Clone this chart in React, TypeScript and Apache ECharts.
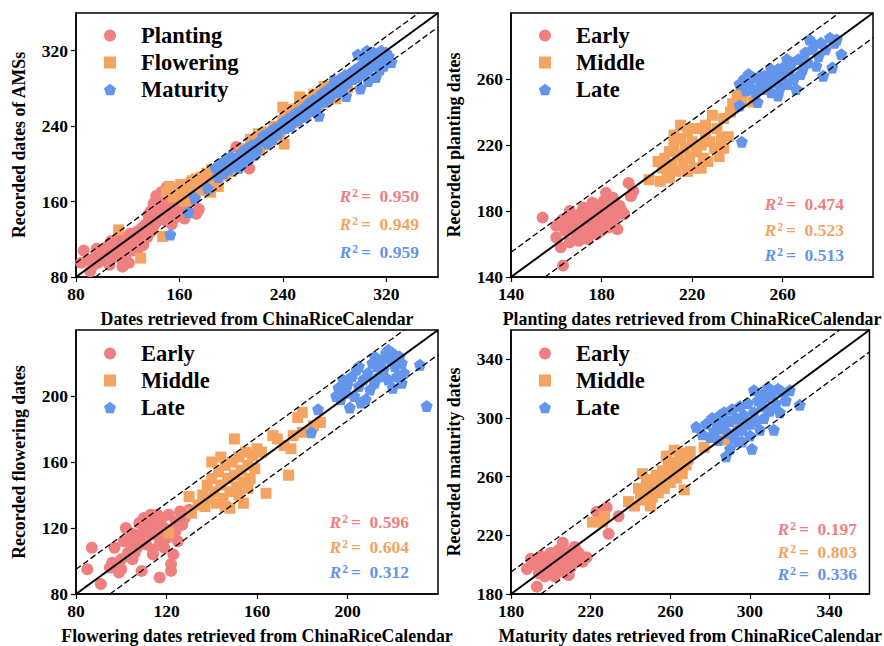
import React, { useEffect, useRef } from "react";
import * as echarts from "echarts";

// ---- Panel (a): all stages, [retrieved, recorded] day of year ----
const allPlanting: number[][] = [
  [86,108],[84,95],[91,86],[90,98],[93,92],[95,101],[97,95],[98,104],[100,99],[101,108],
  [103,97],[104,112],[105,104],[106,93],[107,118],[108,110],[109,102],[110,114],[111,106],[112,120],
  [113,109],[114,100],[115,116],[116,91],[117,122],[118,112],[119,105],[120,118],[121,95],[122,126],
  [123,114],[124,108],[125,121],[126,116],[127,128],[128,110],[129,124],[130,119],[131,132],[132,114],
  [133,126],[134,136],[135,122],[136,130],[137,140],[138,128],[139,144],[140,134],[141,150],[142,138],
  [143,156],[144,142],[145,160],[146,148],[147,163],[148,152],[149,140],[150,158],[151,146],[152,165],
  [153,154],[154,136],[155,160],[157,150],[156,142],[164,142],[166,150],[173,147],[174,150],[175,152],
  [162,156],[204,218],[214,195],[170,162],[158,166],[160,158],[140,158],[142,166],[144,162],[146,170],
  [148,168],[150,175],[138,150],[136,146],[152,170],[154,168],[134,128],[130,126],[126,124],[96,110],
];
const allFlowering: number[][] = [
  [113,130],[147,123],[130,100],[152,176],[150,170],[155,165],[158,172],[160,168],[162,175],[164,160],
  [166,178],[168,170],[170,182],[172,166],[174,176],[176,184],[178,172],[180,186],[182,178],[184,170],
  [186,190],[188,182],[190,176],[192,194],[195,188],[198,200],[200,192],[203,205],[205,198],[208,212],
  [210,204],[212,216],[214,208],[216,222],[218,212],[220,226],[222,214],[224,230],[226,220],[228,234],
  [230,224],[232,226],[235,238],[238,230],[241,221],[240,246],[243,252],[245,240],[247,256],[249,244],
  [251,258],[253,250],[255,262],[258,252],[260,266],[262,258],[265,270],[268,262],[270,274],[273,266],
  [275,278],[278,270],[281,269],[283,282],[285,276],[288,286],[240,260],[244,258],[290,281],[253,271],
  [156,174],[161,178],[165,172],[169,180],[173,184],[177,186],[181,190],[185,194],[215,226],[221,232],
  [227,224],[233,240],[246,252],[256,268],[264,274],[272,282],[280,288],
];
const allMaturity: number[][] = [
  [153,125],[167,149],[172,164],[182,174],[188,196],[190,186],[192,200],[194,190],[196,204],[198,194],
  [200,208],[202,198],[204,206],[206,196],[208,212],[210,202],[212,216],[214,206],[216,220],[218,210],
  [220,214],[222,224],[225,230],[228,222],[230,234],[232,226],[234,238],[236,232],[240,244],[244,248],
  [246,240],[250,254],[252,246],[255,258],[257,250],[260,264],[262,256],[264,268],[266,260],[268,251],
  [270,274],[272,266],[274,278],[276,270],[278,282],[280,288],[282,276],[284,290],[286,280],[288,294],
  [290,286],[292,296],[294,290],[296,300],[298,292],[300,280],[300,304],[302,296],[304,310],[306,300],
  [308,314],[310,304],[312,292],[312,316],[314,308],[316,320],[318,312],[320,318],[322,314],[324,308],
  [305,320],[310,318],[298,316],[315,300],[306,288],[318,304],[289,272],[191,194],[195,198],[199,202],
  [203,200],[207,204],[211,208],[238,240],[242,238],[248,250],[254,252],[259,256],[263,262],[267,266],
  [282,286],[286,290],[292,290],[296,296],[302,304],[308,306],[313,312],
];

// ---- Panel (b): planting dates ----
const plantEarly: number[][] = [
  [154,176],[160,171],[160,164],[163,147],[162,158],[164,168],[165,174],[166,161],[167,171],[168,177],
  [169,165],[170,173],[171,179],[172,168],[173,175],[174,163],[175,180],[176,171],[177,177],[178,166],
  [179,183],[180,174],[181,186],[182,178],[182,191],[183,170],[184,181],[185,188],[186,176],[187,169],
  [188,183],[189,180],[190,178],[192,197],[193,189],[194,192],[170,162],[175,168],[178,175],[184,172],
  [166,180],[172,182],[180,168],[186,185],[176,185],[163,175],
];
const plantMiddle: number[][] = [
  [201,199],[206,198],[207,206],[208,212],[209,203],[210,216],[211,208],[212,220],[213,204],[214,214],
  [215,224],[216,209],[217,218],[218,228],[219,212],[220,222],[221,206],[222,216],[223,230],[224,220],
  [225,212],[226,226],[227,210],[228,222],[229,238],[230,218],[231,230],[232,213],[233,224],[234,236],
  [236,225],[237,240],[238,245],[240,250],[242,248],[247,246],[215,232],[212,226],[218,204],[224,206],
  [210,200],[220,230],[226,232],[205,210],[234,218],
];
const plantLate: number[][] = [
  [241,257],[242,222],[241,244],[243,260],[244,253],[245,258],[246,255],[247,261],[248,252],[249,246],
  [250,259],[251,254],[252,262],[253,256],[254,260],[255,252],[256,264],[257,258],[258,266],[259,255],
  [260,262],[261,268],[262,257],[263,265],[264,270],[265,260],[266,254],[267,272],[268,263],[269,266],
  [270,276],[271,270],[272,284],[273,278],[274,281],[275,268],[276,274],[277,282],[279,278],[281,285],
  [282,267],[283,282],[284,284],[286,275],[278,262],[262,272],[255,266],[250,262],[245,263],[258,250],
];

// ---- Panel (c): flowering dates ----
const flowerEarly: number[][] = [
  [85,95],[87,108],[91,86],[95,96],[96,99],[98,96],[97,108],[99,93],[100,101],[101,112],
  [102,120],[103,105],[104,111],[105,101],[106,116],[107,108],[108,114],[109,94],[110,119],[111,110],
  [112,122],[113,116],[114,107],[115,124],[116,118],[117,90],[117,112],[118,126],[119,120],[120,114],
  [121,128],[122,94],[122,98],[122,118],[123,104],[124,124],[125,112],[126,130],[127,122],[128,126],
  [129,129],[130,131],[110,126],[113,128],[116,128],[119,108],[104,117],[108,123],[124,118],[114,104],
  [100,95],[106,105],
];
const flowerMiddle: number[][] = [
  [121,117],[131,129],[130,139],[134,134],[136,140],[137,133],[138,146],[139,138],[140,150],[141,142],
  [142,135],[143,154],[144,146],[145,138],[146,158],[147,150],[148,142],[149,160],[150,152],[150,174],
  [151,145],[152,163],[153,155],[154,135],[154,148],[155,166],[156,158],[157,150],[158,164],[159,156],
  [160,168],[162,166],[164,141],[167,176],[169,174],[172,170],[174,152],[175,168],[176,176],[178,187],
  [180,190],[180,178],[185,182],[188,184],[140,160],[144,163],[148,132],[152,140],[146,133],[156,144],
];
const flowerLate: number[][] = [
  [184,178],[187,192],[195,200],[196,205],[197,198],[198,210],[199,202],[200,207],[201,193],[202,212],
  [203,200],[204,216],[205,206],[206,196],[207,210],[208,198],[209,214],[210,204],[211,220],[212,208],
  [213,218],[214,212],[215,222],[216,216],[217,226],[218,210],[219,222],[220,205],[221,218],[222,212],
  [223,224],[224,208],[225,214],[232,219],[235,194],[218,228],[212,224],[205,218],[220,226],[224,220],
];

// ---- Panel (d): maturity dates ----
const matureEarly: number[][] = [
  [188,197],[190,204],[192,200],[193,185],[194,194],[195,206],[196,198],[197,192],[198,203],[199,196],
  [200,208],[201,199],[202,192],[203,205],[204,198],[205,210],[206,215],[206,201],[207,195],[208,206],
  [209,193],[210,209],[211,201],[212,212],[213,204],[214,208],[216,202],[218,205],[223,236],[225,232],
  [228,239],[229,221],[234,233],[226,237],[200,195],[197,200],[204,210],[210,198],
];
const matureMiddle: number[][] = [
  [221,229],[226,229],[227,233],[239,243],[242,240],[245,248],[247,244],[248,255],[249,250],[250,258],
  [251,246],[252,254],[253,261],[254,249],[255,257],[256,264],[257,252],[258,260],[259,267],[260,256],
  [261,263],[262,270],[263,259],[264,266],[265,273],[266,262],[267,251],[267,276],[268,268],[269,272],
  [270,277],[277,280],[287,285],[295,298],[246,262],[250,240],[258,274],[244,252],[262,278],
];
const matureLate: number[][] = [
  [273,294],[276,289],[278,296],[280,287],[281,300],[282,291],[283,297],[284,285],[285,302],[286,293],
  [287,304],[288,274],[289,290],[290,279],[290,298],[291,306],[292,286],[293,300],[294,292],[295,308],
  [296,284],[297,302],[298,296],[299,310],[300,288],[301,279],[302,304],[302,319],[303,298],[304,312],
  [305,292],[306,308],[307,300],[308,314],[309,321],[310,305],[311,316],[312,292],[313,310],[314,320],
  [315,304],[316,318],[318,312],[320,319],[325,309],[296,292],[300,296],[286,298],[306,316],[294,284],
];

// Axis ranges and tick labels per panel
const rangeAll = [80, 360];
const rangePlanting = [140, 300];
const rangeFlowering = [80, 240];
const rangeMaturity = [180, 360];
const ticksAll = [80, 160, 240, 320];
const ticksPlanting = [140, 180, 220, 260];
const ticksFlowering = [80, 120, 160, 200];
const ticksMaturity = [180, 220, 260, 300, 340];

// Coefficients of determination, per group
const r2All = ["0.950", "0.949", "0.959"];
const r2Planting = ["0.474", "0.523", "0.513"];
const r2Flowering = ["0.596", "0.604", "0.312"];
const r2Maturity = ["0.197", "0.803", "0.336"];

const namesAll = ["Planting", "Flowering", "Maturity"];
const namesSeason = ["Early", "Middle", "Late"];

const xTitles = [
  "Dates retrieved from ChinaRiceCalendar",
  "Planting dates retrieved from ChinaRiceCalendar",
  "Flowering dates retrieved from ChinaRiceCalendar",
  "Maturity dates retrieved from ChinaRiceCalendar",
];
const yTitles = [
  "Recorded dates of AMSs",
  "Recorded planting dates",
  "Recorded flowering dates",
  "Recorded maturity dates",
];

// Tolerance band around the 1:1 line (days)
const BAND = 15;

const FONT = "'Liberation Serif', 'Times New Roman', serif";
const COLORS = ["#F08080", "#F4A460", "#6495ED"];
const PENTAGON =
  "path://M0,-10 L9.511,-3.090 L5.878,8.090 L-5.878,8.090 L-9.511,-3.090 Z";
const SYMBOLS = ["circle", "rect", PENTAGON];
const SIZES = [12, 11, 12];

const GRIDS = [
  { left: 76, top: 13, width: 362, height: 264 },
  { left: 511, top: 13, width: 362, height: 264 },
  { left: 76, top: 330, width: 362, height: 265 },
  { left: 511, top: 330, width: 362, height: 265 },
];
const LEGEND_POS = [
  { left: 99, top: 19 },
  { left: 534, top: 19 },
  { left: 99, top: 337 },
  { left: 534, top: 337 },
];
const R2_POS = [
  { x: 419, y: [196, 224, 252] },
  { x: 844, y: [204, 230, 255] },
  { x: 409, y: [522, 547, 572] },
  { x: 857, y: [529, 552, 574] },
];

const panels = [
  { names: namesAll, data: [allPlanting, allFlowering, allMaturity], range: rangeAll, ticks: ticksAll, r2: r2All },
  { names: namesSeason, data: [plantEarly, plantMiddle, plantLate], range: rangePlanting, ticks: ticksPlanting, r2: r2Planting },
  { names: namesSeason, data: [flowerEarly, flowerMiddle, flowerLate], range: rangeFlowering, ticks: ticksFlowering, r2: r2Flowering },
  { names: namesSeason, data: [matureEarly, matureMiddle, matureLate], range: rangeMaturity, ticks: ticksMaturity, r2: r2Maturity },
];

function makeAxis(gridIndex: number, range: number[], ticks: number[], name: string, isY: boolean) {
  return {
    type: "value",
    gridIndex,
    min: range[0],
    max: range[1],
    interval: ticks[1] - ticks[0],
    name,
    nameLocation: "middle",
    nameGap: isY ? 48 : 33,
    nameTextStyle: { fontFamily: FONT, fontWeight: "bold", fontSize: 17.8, color: "#000" },
    axisLine: { show: true, onZero: false, lineStyle: { color: "#000", width: 1.5 } },
    axisTick: {
      show: true,
      inside: false,
      length: 5,
      customValues: ticks,
      lineStyle: { color: "#000", width: 1.2 },
    },
    axisLabel: {
      customValues: ticks,
      margin: 8,
      fontFamily: FONT,
      fontWeight: "bold",
      fontSize: 17.5,
      color: "#000",
    },
    splitLine: { show: false },
  };
}

function buildOption() {
  const xAxis: any[] = [];
  const yAxis: any[] = [];
  const series: any[] = [];
  const legend: any[] = [];
  const graphic: any[] = [];

  panels.forEach((p, i) => {
    xAxis.push(makeAxis(i, p.range, p.ticks, xTitles[i], false));
    yAxis.push(makeAxis(i, p.range, p.ticks, yTitles[i], true));

    p.data.forEach((pts, k) => {
      series.push({
        type: "scatter",
        name: p.names[k],
        xAxisIndex: i,
        yAxisIndex: i,
        data: pts,
        symbol: SYMBOLS[k],
        symbolSize: SIZES[k],
        itemStyle: { color: COLORS[k], opacity: 1 },
        z: 2 + k,
        silent: true,
      });
    });

    const [lo, hi] = p.range;
    const lines = [
      { d: [[lo, lo], [hi, hi]], w: 2, t: "solid" },
      { d: [[lo, lo + BAND], [hi - BAND, hi]], w: 1.3, t: [6, 3] },
      { d: [[lo + BAND, lo], [hi, hi - BAND]], w: 1.3, t: [6, 3] },
    ];
    lines.forEach((l) => {
      series.push({
        type: "line",
        xAxisIndex: i,
        yAxisIndex: i,
        data: l.d,
        symbol: "none",
        silent: true,
        z: 10,
        lineStyle: { color: "#000", width: l.w, type: l.t },
      });
    });

    legend.push({
      data: p.names,
      orient: "vertical",
      left: LEGEND_POS[i].left,
      top: LEGEND_POS[i].top,
      itemWidth: 12,
      itemHeight: 12,
      itemGap: 4,
      selectedMode: false,
      textStyle: {
        fontFamily: FONT,
        fontWeight: "bold",
        fontSize: 22.5,
        color: "#000",
        padding: [0, 0, 0, 20],
      },
    });

    p.r2.forEach((v, k) => {
      const c = COLORS[k];
      graphic.push({
        type: "text",
        x: R2_POS[i].x,
        y: R2_POS[i].y[k],
        silent: true,
        z: 20,
        style: {
          text: `{r|R}{s|2}{t|=  ${v}}`,
          align: "right",
          verticalAlign: "middle",
          rich: {
            r: { fontFamily: FONT, fontStyle: "italic", fontWeight: "bold", fontSize: 17.5, fill: c },
            s: { fontFamily: FONT, fontWeight: "bold", fontSize: 11.5, fill: c, verticalAlign: "top", padding: [0, 3, 0, 1] },
            t: { fontFamily: FONT, fontWeight: "bold", fontSize: 17.5, fill: c },
          },
        },
      });
    });
  });

  return {
    animation: false,
    backgroundColor: "#fff",
    grid: GRIDS.map((g) => ({ ...g, show: true, borderColor: "#000", borderWidth: 1.5, backgroundColor: "transparent" })),
    xAxis,
    yAxis,
    legend,
    series,
    graphic,
  };
}

export default function App() {
  const ref = useRef<HTMLDivElement>(null);
  useEffect(() => {
    if (!ref.current) return;
    const chart = echarts.init(ref.current, undefined, { renderer: "svg" });
    chart.setOption(buildOption() as any);
    return () => chart.dispose();
  }, []);
  return (
    <div
      ref={ref}
      style={{ position: "fixed", left: 0, top: 0, width: 884, height: 646, background: "#fff" }}
    />
  );
}
